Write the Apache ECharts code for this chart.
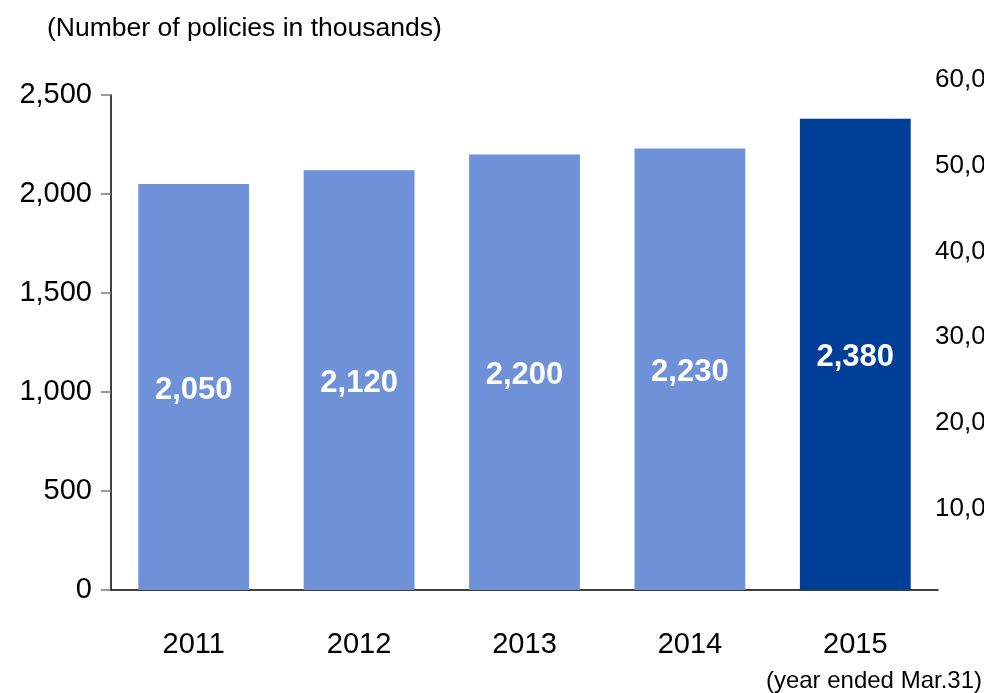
<!DOCTYPE html>
<html>
<head>
<meta charset="utf-8">
<script src="https://cdn.jsdelivr.net/npm/echarts@6/dist/echarts.min.js"></script>
<style>
  html, body { margin: 0; padding: 0; background: #fff; }
  #chart { width: 984px; height: 693px; }
</style>
</head>
<body>
<div id="chart"></div>
<script>
// data
const years = ["2011", "2012", "2013", "2014", "2015"];
const policies = [2050, 2120, 2200, 2230, 2380];
const barColors = ["#6f91d7", "#6f91d7", "#6f91d7", "#6f91d7", "#003f98"];
const rightTicks = [10000, 20000, 30000, 40000, 50000, 60000];

const font = "'Liberation Sans', Arial, sans-serif";

const chart = echarts.init(document.getElementById("chart"));

chart.setOption({
  backgroundColor: "#fff",
  animation: false,
  graphic: [
    {
      type: "text",
      left: 47,
      top: 15,
      style: { text: "(Number of policies in thousands)", font: "26.5px " + font, fill: "#000" },
    },
    {
      type: "text",
      right: 2,
      top: 669,
      style: { text: "(year ended Mar.31)", font: "24px " + font, fill: "#000" },
    },
  ],
  grid: [
    { left: 111, right: 46, top: 95, bottom: 103, outerBoundsMode: "none", containLabel: false },
    // second grid only carries the right-hand axis, its labels run off the edge
    { left: 111, right: 46, top: 80, bottom: 99, outerBoundsMode: "none", containLabel: false },
  ],
  xAxis: [
    {
      type: "category",
      gridIndex: 0,
      data: years,
      axisLine: { lineStyle: { color: "#000", width: 1.5 } },
      axisTick: { show: false },
      axisLabel: { margin: 40, fontSize: 29, color: "#000", fontFamily: font },
    },
    {
      type: "category",
      gridIndex: 1,
      data: years,
      show: false,
    },
  ],
  yAxis: [
    {
      type: "value",
      gridIndex: 0,
      min: 0,
      max: 2500,
      interval: 500,
      axisLine: { show: true, lineStyle: { color: "#000", width: 1.5 } },
      axisTick: { show: true, length: 10, lineStyle: { color: "#777", width: 1.5 } },
      splitLine: { show: false },
      axisLabel: {
        margin: 19,
        fontSize: 29,
        color: "#000",
        fontFamily: font,
        formatter: (v) => v.toLocaleString("en-US"),
      },
    },
    {
      type: "value",
      gridIndex: 1,
      position: "right",
      min: 0,
      max: rightTicks[rightTicks.length - 1],
      interval: rightTicks[0],
      axisLine: { show: false },
      axisTick: { show: false },
      splitLine: { show: false },
      axisLabel: {
        margin: -3,
        fontSize: 26,
        color: "#000",
        fontFamily: font,
        showMinLabel: false,
        hideOverlap: false,
        formatter: (v) => v.toLocaleString("en-US"),
      },
    },
  ],
  series: [
    {
      type: "bar",
      xAxisIndex: 0,
      yAxisIndex: 0,
      barCategoryGap: "33%",
      data: policies.map((v, i) => ({ value: v, itemStyle: { color: barColors[i] } })),
      label: {
        show: true,
        position: "inside",
        offset: [0, 3],
        color: "#fff",
        fontSize: 31,
        fontWeight: "bold",
        fontFamily: font,
        formatter: (p) => p.value.toLocaleString("en-US"),
      },
    },
  ],
});
</script>
</body>
</html>
